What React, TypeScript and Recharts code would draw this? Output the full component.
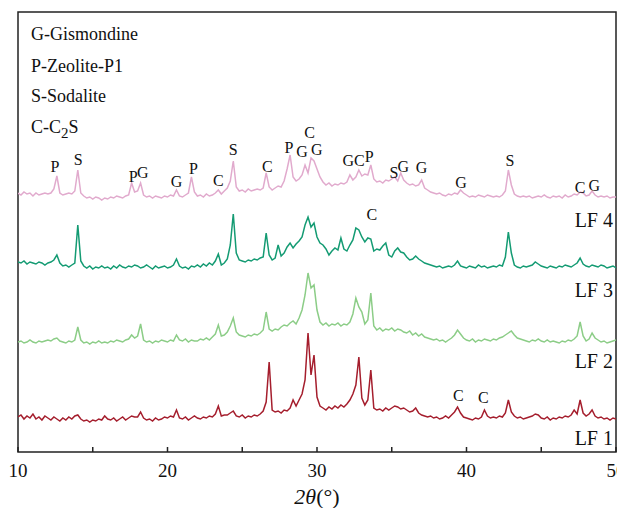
import React from 'react';
import { LineChart, Line, XAxis, YAxis, ReferenceArea, ReferenceDot } from 'recharts';

// 2θ grid (degrees)
const twoTheta = [
  10.0, 10.2, 10.4, 10.6, 10.8, 11.0, 11.2, 11.4, 11.6, 11.8,
  12.0, 12.2, 12.4, 12.6, 12.8, 13.0, 13.2, 13.4, 13.6, 13.8,
  14.0, 14.2, 14.4, 14.6, 14.8, 15.0, 15.2, 15.4, 15.6, 15.8,
  16.0, 16.2, 16.4, 16.6, 16.8, 17.0, 17.2, 17.4, 17.6, 17.8,
  18.0, 18.2, 18.4, 18.6, 18.8, 19.0, 19.2, 19.4, 19.6, 19.8,
  20.0, 20.2, 20.4, 20.6, 20.8, 21.0, 21.2, 21.4, 21.6, 21.8,
  22.0, 22.2, 22.4, 22.6, 22.8, 23.0, 23.2, 23.4, 23.6, 23.8,
  24.0, 24.2, 24.4, 24.6, 24.8, 25.0, 25.2, 25.4, 25.6, 25.8,
  26.0, 26.2, 26.4, 26.6, 26.8, 27.0, 27.2, 27.4, 27.6, 27.8,
  28.0, 28.2, 28.4, 28.6, 28.8, 29.0, 29.2, 29.4, 29.6, 29.8,
  30.0, 30.2, 30.4, 30.6, 30.8, 31.0, 31.2, 31.4, 31.6, 31.8,
  32.0, 32.2, 32.4, 32.6, 32.8, 33.0, 33.2, 33.4, 33.6, 33.8,
  34.0, 34.2, 34.4, 34.6, 34.8, 35.0, 35.2, 35.4, 35.6, 35.8,
  36.0, 36.2, 36.4, 36.6, 36.8, 37.0, 37.2, 37.4, 37.6, 37.8,
  38.0, 38.2, 38.4, 38.6, 38.8, 39.0, 39.2, 39.4, 39.6, 39.8,
  40.0, 40.2, 40.4, 40.6, 40.8, 41.0, 41.2, 41.4, 41.6, 41.8,
  42.0, 42.2, 42.4, 42.6, 42.8, 43.0, 43.2, 43.4, 43.6, 43.8,
  44.0, 44.2, 44.4, 44.6, 44.8, 45.0, 45.2, 45.4, 45.6, 45.8,
  46.0, 46.2, 46.4, 46.6, 46.8, 47.0, 47.2, 47.4, 47.6, 47.8,
  48.0, 48.2, 48.4, 48.6, 48.8, 49.0, 49.2, 49.4, 49.6, 49.8,
  50.0,
];

// intensities (arbitrary units, each pattern relative to its own zero)
const lf1 = [
  13, 15, 11, 14, 12, 16, 11, 13, 10, 14,
  12, 10, 13, 11, 9, 12, 10, 13, 11, 14,
  15, 11, 9, 10, 8, 10, 9, 11, 10, 14,
  11, 10, 12, 9, 11, 13, 10, 12, 14, 13,
  13, 18, 12, 10, 11, 9, 12, 10, 11, 13,
  12, 14, 13, 20, 12, 11, 13, 10, 12, 14,
  12, 11, 13, 12, 14, 13, 16, 24, 14, 15,
  15, 17, 19, 14, 13, 15, 12, 14, 13, 15,
  14, 16, 19, 28, 68, 20, 18, 19, 17, 20,
  19, 22, 30, 24, 30, 36, 50, 97, 55, 75,
  33, 24, 22, 20, 23, 21, 24, 22, 25, 23,
  26, 30, 36, 45, 73, 32, 25, 30, 60, 22,
  20, 21, 19, 22, 20, 22, 24, 23, 21, 22,
  20, 18, 19, 22, 17, 15, 14, 13, 14, 12,
  13, 11, 12, 14, 12, 15, 18, 23, 17, 13,
  12, 11, 10, 12, 11, 13, 20, 14, 12, 13,
  12, 14, 13, 17, 30, 18, 14, 12, 13, 11,
  12, 13, 14, 16, 15, 12, 11, 13, 10, 12,
  11, 13, 12, 14, 13, 15, 20, 16, 30, 17,
  14, 16, 20, 14, 12, 13, 11, 12, 10, 12,
  11,
];

const lf2 = [
  8, 9, 7, 8, 10, 8, 7, 9, 8, 9,
  10, 9, 11, 12, 9, 8, 7, 9, 8, 10,
  23, 10, 7, 8, 6, 8, 7, 9, 7, 8,
  7, 9, 8, 10, 9, 8, 10, 11, 15, 12,
  14, 26, 10, 8, 9, 7, 9, 8, 10, 9,
  8, 10, 9, 15, 10, 9, 11, 8, 10, 9,
  9, 11, 10, 12, 10, 13, 16, 25, 14, 15,
  18, 24, 32, 18, 15, 14, 13, 15, 14, 16,
  15, 17, 20, 38, 21, 19, 21, 20, 23, 25,
  24, 27, 29, 26, 32, 40, 55, 77, 62, 65,
  40, 28, 25, 27, 24, 26, 25, 27, 24, 26,
  25, 28, 36, 52, 43, 38, 26, 30, 57, 24,
  20, 22, 19, 21, 20, 22, 19, 21, 20, 18,
  17, 19, 15, 17, 14, 16, 13, 12, 11, 10,
  11, 9, 10, 8, 10, 12, 15, 20, 16, 12,
  10, 9, 11, 8, 10, 9, 11, 10, 9, 11,
  10, 12, 13, 15, 17, 19, 15, 12, 11, 10,
  9, 8, 10, 9, 11, 9, 8, 10, 8, 9,
  8, 7, 9, 8, 10, 9, 11, 14, 28, 14,
  9, 11, 17, 12, 10, 8, 9, 7, 8, 9,
  10,
];

const lf3 = [
  13, 12, 14, 11, 13, 12, 11, 13, 12, 10,
  12, 13, 15, 20, 12, 9, 10, 8, 10, 12,
  50, 14, 9, 7, 9, 6, 8, 7, 9, 7,
  8, 6, 9, 7, 10, 8, 7, 9, 8, 10,
  9, 7, 8, 10, 8, 6, 9, 7, 8, 9,
  7, 8, 10, 16, 9, 7, 8, 6, 9, 8,
  10, 8, 11, 9, 12, 10, 14, 21, 10, 12,
  16, 30, 61, 22, 15, 14, 13, 15, 14, 16,
  15, 17, 18, 42, 20, 15, 17, 30, 19, 22,
  28, 32, 27, 31, 34, 38, 50, 58, 48, 52,
  38, 32, 30, 26, 20, 24, 27, 25, 37, 26,
  24, 30, 35, 47, 45, 38, 33, 37, 36, 24,
  26, 25, 29, 32, 20, 18, 24, 27, 23, 22,
  18, 15, 16, 19, 16, 14, 12, 11, 10, 9,
  8, 9, 7, 8, 9, 8, 10, 14, 9, 8,
  7, 9, 8, 7, 10, 8, 9, 7, 8, 9,
  8, 10, 9, 18, 43, 22, 10, 8, 7, 9,
  8, 9, 10, 13, 11, 9, 8, 7, 9, 8,
  7, 9, 8, 10, 9, 8, 10, 12, 17, 11,
  9, 8, 10, 9, 8, 10, 9, 7, 8, 9,
  7,
];

const lf4 = [
  12, 10, 13, 11, 12, 9, 12, 10, 11, 12,
  11, 12, 16, 29, 12, 10, 11, 12, 11, 14,
  35, 12, 9, 7, 8, 6, 8, 7, 5, 7,
  6, 8, 7, 9, 8, 7, 9, 10, 22, 13,
  14, 22, 10, 8, 9, 7, 9, 8, 7, 9,
  8, 10, 9, 15, 9, 8, 10, 12, 28, 13,
  9, 10, 8, 11, 9, 10, 12, 15, 11, 14,
  17, 24, 44, 18, 14, 15, 13, 16, 14, 15,
  16, 15, 17, 32, 18, 15, 17, 19, 18, 24,
  36, 50, 28, 24, 26, 30, 40, 32, 47, 44,
  36, 28, 23, 20, 22, 19, 21, 20, 22, 21,
  23, 30, 25, 28, 35, 29, 31, 30, 40, 26,
  23, 24, 22, 25, 24, 26, 28, 24, 32, 25,
  22, 20, 21, 19, 20, 25, 17, 15, 13, 12,
  11, 12, 10, 9, 11, 10, 12, 11, 15, 12,
  10, 8, 9, 8, 10, 9, 8, 10, 9, 8,
  9, 8, 10, 14, 35, 20, 11, 9, 8, 9,
  8, 9, 7, 8, 9, 8, 10, 8, 7, 9,
  8, 9, 7, 10, 8, 9, 11, 10, 13, 12,
  9, 10, 14, 10, 8, 9, 8, 9, 7, 8,
  8,
];

const seriesKeys = ['lf1', 'lf2', 'lf3', 'lf4'];
const seriesNames = ['LF 1', 'LF 2', 'LF 3', 'LF 4'];
const seriesOffsets = [22, 102, 177, 247];
const seriesColors = ['#A51E2D', '#8CCD87', '#149B73', '#E1AACD'];
const seriesNameY = [7, 84, 155, 225];

const xTicks = [10, 15, 20, 25, 30, 35, 40, 45, 50];

const legendLines = ['G-Gismondine', 'P-Zeolite-P1', 'S-Sodalite', 'C-C2S'];
const legendY = [412, 380, 350, 319];

const peakLabels = [
  { t: 12.47, y: 280, s: 'P' },
  { t: 14.03, y: 287, s: 'S' },
  { t: 17.7, y: 270, s: 'P' },
  { t: 18.34, y: 274, s: 'G' },
  { t: 20.6, y: 265, s: 'G' },
  { t: 21.73, y: 278, s: 'P' },
  { t: 23.4, y: 266, s: 'C' },
  { t: 24.4, y: 297, s: 'S' },
  { t: 26.68, y: 280, s: 'C' },
  { t: 28.13, y: 299, s: 'P' },
  { t: 29.0, y: 295, s: 'G' },
  { t: 29.5, y: 314, s: 'C' },
  { t: 29.98, y: 297, s: 'G' },
  { t: 32.1, y: 286, s: 'G' },
  { t: 32.83, y: 286, s: 'C' },
  { t: 33.5, y: 290, s: 'P' },
  { t: 35.15, y: 274, s: 'S' },
  { t: 35.77, y: 280, s: 'G' },
  { t: 37.0, y: 279, s: 'G' },
  { t: 39.63, y: 264, s: 'G' },
  { t: 42.9, y: 286, s: 'S' },
  { t: 47.6, y: 259, s: 'C' },
  { t: 48.55, y: 261, s: 'G' },
  { t: 33.66, y: 232, s: 'C' },
  { t: 39.45, y: 51, s: 'C' },
  { t: 41.12, y: 49, s: 'C' },
];

const data = twoTheta.map((t, i) => ({
  t,
  lf1: lf1[i] + seriesOffsets[0],
  lf2: lf2[i] + seriesOffsets[1],
  lf3: lf3[i] + seriesOffsets[2],
  lf4: lf4[i] + seriesOffsets[3],
}));

const SERIF = 'Liberation Serif, Times New Roman, serif';
const serifStyle = { fontFamily: SERIF };

const XTick = (props: any) => {
  const { x, y, payload } = props;
  const v = payload.value;
  return (
    <g>
      <line x1={x} x2={x} y1={y} y2={y - 5} stroke="#222" strokeWidth={1.5} />
      {v % 10 === 0 && (
        <text x={x} y={y + 25} textAnchor="middle" fontSize={19} style={serifStyle} fill="#111">
          {v}
        </text>
      )}
    </g>
  );
};

const makeText = (s: string, size: number, anchor: string) => (p: any) => {
  const vb = p.viewBox || {};
  const x = (vb.x ?? 0) + (vb.width ?? 0) / 2;
  const y = (vb.y ?? 0) + (vb.height ?? 0) / 2;
  if (s === 'C-C2S') {
    return (
      <text x={x} y={y} textAnchor={anchor} fontSize={size} style={serifStyle} fill="#111">
        C-C<tspan dy={5} fontSize={size - 3}>2</tspan><tspan dy={-5}>S</tspan>
      </text>
    );
  }
  return (
    <text x={x} y={y} textAnchor={anchor} fontSize={size} style={serifStyle} fill="#111">
      {s}
    </text>
  );
};

const AxisTitle = (p: any) => {
  const vb = p.viewBox || {};
  const cx = vb.x + vb.width / 2;
  return (
    <text x={cx} y={vb.y + 52} textAnchor="middle" fontSize={22} style={serifStyle} fill="#111">
      <tspan fontStyle="italic">2θ</tspan>
      <tspan>(°)</tspan>
    </text>
  );
};

export default function App() {
  return (
    <LineChart
      width={617}
      height={500}
      data={data}
      margin={{ top: 4, right: 9, bottom: 0, left: 10 }}
      style={{ ...serifStyle, overflow: 'visible' }}
    >
      <XAxis
        dataKey="t"
        type="number"
        domain={[10, 50]}
        ticks={xTicks}
        tick={<XTick />}
        tickLine={false}
        axisLine={false}
        tickSize={0}
        tickMargin={0}
        height={56}
        interval={0}
        allowDataOverflow
        label={{ content: <AxisTitle /> } as any}
      />
      <YAxis hide domain={[0, 440]} type="number" allowDataOverflow width={0} />
      <ReferenceArea x1={10} x2={50} y1={0} y2={440} fill="none" stroke="#222" strokeWidth={1.5} ifOverflow="visible" />
      {seriesKeys.map((k, i) => (
        <Line
          key={k}
          dataKey={k}
          name={seriesNames[i]}
          type="linear"
          stroke={seriesColors[i]}
          strokeWidth={1.5}
          strokeLinejoin="miter"
          dot={false}
          activeDot={false}
          isAnimationActive={false}
        />
      ))}
      {legendLines.map((s, i) => (
        <ReferenceDot
          key={'lg' + i}
          x={10.87}
          y={legendY[i]}
          r={0}
          fill="none"
          stroke="none"
          ifOverflow="visible"
          label={{ content: makeText(s, 18, 'start') } as any}
        />
      ))}
      {seriesNames.map((s, i) => (
        <ReferenceDot
          key={'nm' + i}
          x={49.8}
          y={seriesNameY[i]}
          r={0}
          fill="none"
          stroke="none"
          ifOverflow="visible"
          label={{ content: makeText(s, 20, 'end') } as any}
        />
      ))}
      {peakLabels.map((p, i) => (
        <ReferenceDot
          key={'pk' + i}
          x={p.t}
          y={p.y}
          r={0}
          fill="none"
          stroke="none"
          ifOverflow="visible"
          label={{ content: makeText(p.s, 16, 'middle') } as any}
        />
      ))}
    </LineChart>
  );
}
